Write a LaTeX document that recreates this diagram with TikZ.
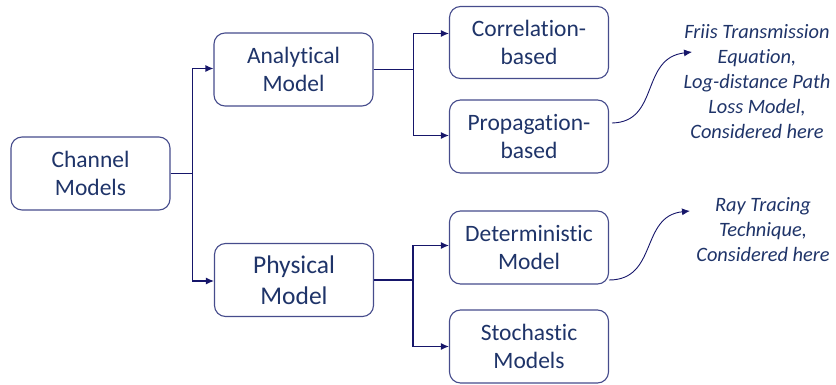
\documentclass[tikz,border=0pt]{standalone}
\usepackage{fontspec}
\setmainfont{Carlito}[Ligatures=NoCommon]
\usetikzlibrary{arrows.meta}
\definecolor{txtblue}{HTML}{1F3469}
\definecolor{boxline}{HTML}{464C8C}
\definecolor{linkblue}{HTML}{16166A}

\begin{document}
\begin{tikzpicture}
  [x=1pt,y=-1pt,
   box/.style={draw=boxline,line width=1.1pt,fill=white,rounded corners=11pt,
     minimum width=159pt,minimum height=73pt,align=center,text=txtblue,
     font=\fontsize{23.5}{27.5}\selectfont},
   bigbox/.style={box,font=\fontsize{25.5}{31}\selectfont},
   note/.style={align=center,text=txtblue,font=\fontsize{20.4}{25}\selectfont\itshape},
   conn/.style={draw=linkblue,line width=1.2pt,-{Latex[length=8pt,width=7pt]}}]
  \useasboundingbox (0,0) rectangle (836,385);

  \node[box] (cm) at (90.5,173.5) {Channel\\Models};
  \node[box] (am) at (293.5,69.5)  {Analytical\\Model};
  \node[bigbox] (pm) at (294,280)  {Physical\\Model};
  \node[box,minimum height=72pt] (cb) at (529,42.5) {Correlation-\\based};
  \node[box] (pb) at (529,136.5) {Propagation-\\based};
  \node[box] (dm) at (529,247.5) {Deterministic\\Model};
  \node[box] (sm) at (529,346.5) {Stochastic\\Models};

  \node[note] (friis) at (757,82) {Friis Transmission\\Equation,\\Log-distance Path\\Loss Model,\\Considered here};
  \node[note] (ray) at (763,230) {Ray Tracing\\Technique,\\Considered here};

  \coordinate (pbout) at (612,123);
  \coordinate (pbin) at (692,52);
  \coordinate (dmout) at (609,280);
  \coordinate (dmin) at (690,211);

  \foreach \from/\to/\dx/\dy in {cm/am/22/1, cm/pm/22/-1, am/cb/40/9, am/pb/40/1, pm/dm/39/2, pm/sm/39/0}
    \draw[conn] (\from.east) -- ++(\dx,0) |- ([yshift=\dy]\to.west);

  \draw[conn,line width=0.9pt] (pbout) .. controls (660,122) and (640,58) .. (pbin);
  \draw[conn,line width=0.9pt] (dmout) .. controls (658,280) and (640,216) .. (dmin);

\end{tikzpicture}
\end{document}
